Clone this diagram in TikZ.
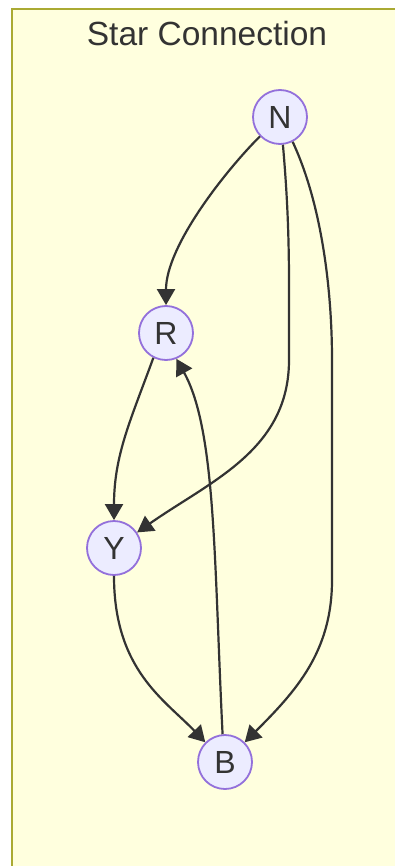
\documentclass[tikz,border=0pt]{standalone}
\definecolor{boxfill}{RGB}{255, 255, 222}
\definecolor{boxline}{RGB}{170, 170, 51}
\definecolor{phasefill}{RGB}{236, 236, 255}
\definecolor{phaseline}{RGB}{147, 112, 219}
\definecolor{wire}{RGB}{51, 51, 51}
\usepackage{fontspec}
\setmainfont{Liberation Sans}
\usepackage{tikz}
\usetikzlibrary{shapes, arrows.meta, positioning, calc}

\begin{document}
\begin{tikzpicture}[x=1pt, y=1pt,
    phase/.style={circle, draw=phaseline, fill=phasefill, line width=1.8pt, minimum size=54pt, inner sep=0pt, text=wire, font=\fontsize{32}{38}\selectfont},
    link/.style={draw=wire, line width=2.2pt, -{Triangle[length=16pt, width=18pt]}}]
  \useasboundingbox (0,0) rectangle (395,-866);
  \fill[boxfill] (12,-9) rectangle (395,-866);
  \draw[boxline, line width=2pt] (12,-866) -- (12,-9) -- (395,-9);
  \node[text=wire, font=\fontsize{33.5}{40}\selectfont] (title) at (207,-34) {Star Connection};

  \node[phase] (N) at (280,-117) {N};
  \node[phase] (R) at (166,-333) {R};
  \node[phase] (Y) at (114,-548) {Y};
  \node[phase] (B) at (225,-762) {B};

  \draw[link] (N.224) .. controls (228,-168) and (166,-245) .. (R.north);
  \draw[link] (N.276) to[out=-85, in=90] (289,-360) to[out=-90, in=35] (Y.34);
  \draw[link] (N.-63) to[out=-65, in=90, looseness=0.8] (332,-360) -- (332,-580) to[out=-90, in=45] (B.45);
  \draw[link] (R.243) to[out=-110, in=90] (Y.north);
  \draw[link] (Y.south) .. controls (114,-670) and (165,-700) .. (B.135);
  \draw[link] (B.95) .. controls (214,-560) and (216,-430) .. (R.-68);
\end{tikzpicture}
\end{document}
